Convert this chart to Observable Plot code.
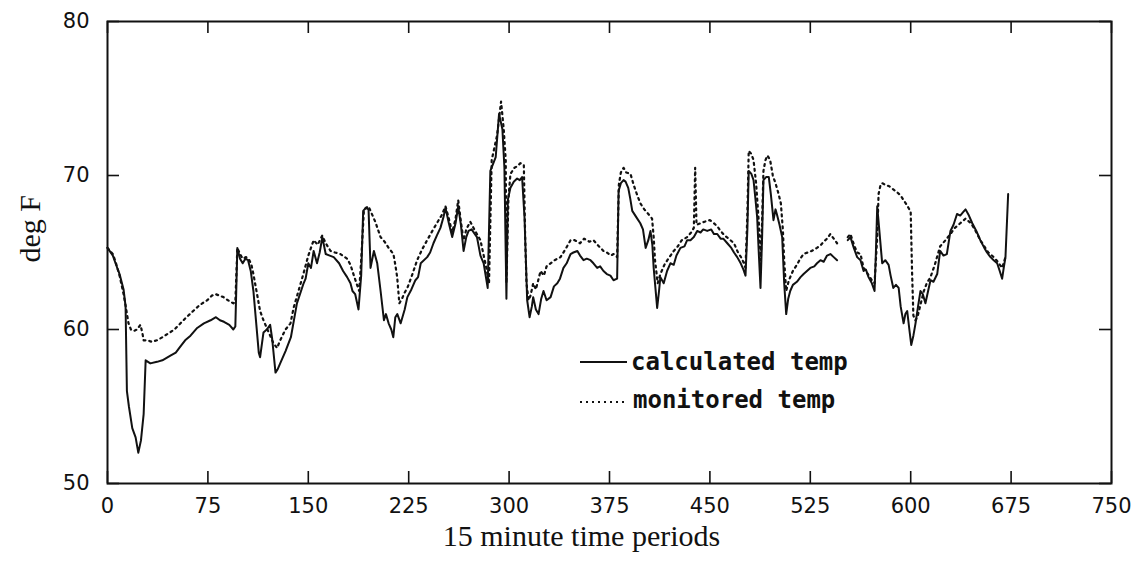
<!DOCTYPE html>
<html><head><meta charset="utf-8">
<script src="https://cdn.jsdelivr.net/npm/d3@7"></script>
<script src="https://cdn.jsdelivr.net/npm/@observablehq/plot@0.6"></script>
<style>
body{margin:0;background:#fff;}
#wrap{position:relative;width:1143px;height:567px;}
</style></head><body><div id="wrap"></div>
<script>
// x tick values and y tick values
const xTicks = [0,75,150,225,300,375,450,525,600,675,750];
const yTicks = [50,60,70,80];
const xLabel = "15 minute time periods";
const yLabel = "deg F";
const legendLabels = ["calculated temp", "monitored temp"];

// calculated temp
const calcT = [0,4,6,9,12,13.5,14.5,16,18.5,21,23,25,27,28.5,32,37,41,47,51,54.5,58,62,67,72,77,81,84,87,91,94,95.5,97,99,101,103,105,107,109,111,113,114,116.5,119,121.5,123,125.5,127,129,133,137,141.5,146.5,148,150,152,154,156.5,158.5,160.5,163,166,169,173,176,179,181.5,183,185,187.5,189.5,191,193,195,196.5,199,201.5,204,206.5,208,210,212,213.5,215,216.5,219,222,224,227,230,232,234,238.8,241,243.5,246,248.7,251,252.5,255,257.5,260,262,264,266,268,269.7,272,276,278.6,281,284,286,290,292.5,295,296.5,298,299,301,303.5,306,308,309.7,311.5,313.5,315.3,317,318,320,322,324,325.7,328,331,333.5,336,338,340.6,343,345.9,348,351,353,355.6,358,360.8,363,365.8,368,370.5,373,375.7,378,380.7,381.8,383.5,385.5,387,389,390.5,392,395,398,400,402,404,405.6,407,408,410.6,412,413,415.5,418,420.5,423,425,428,431,433,435.5,438,440.5,443,445,448,451,453,455.5,458,460,463,466,468,470.4,473,475,476.6,478,479,481,482.6,484,485.3,486.5,487.8,489,490,492,494,495.5,497.5,499,500,502,504,505.5,507,508.5,510,512,515,517.7,520,522.5,525,528,530,532.6,535,537.5,540,542.5,545,549,553,555,557.5,560,562.5,564.8,566.5,568.5,571,573,574,575,576.5,578.7,581,583.5,585,587,589,591,592.5,594.7,596,597.4,599,600.4,602,603.6,605.5,607.3,609,611,613,614.8,617,619.8,622,624.5,627,629.7,632,634.6,637,639,641,643.5,646,649,652,655,657,659.6,662,664.6,666.5,668.3,669.5,670.8,672.8];
const calcV = [65.3,64.8,64.3,63.6,62.6,61.5,56.0,55.0,53.6,53.0,52.0,52.8,54.5,58.0,57.8,57.9,58.0,58.3,58.5,58.9,59.3,59.6,60.1,60.4,60.6,60.8,60.6,60.5,60.3,60.0,60.2,65.3,64.6,64.3,64.6,64.5,63.8,62.5,60.5,58.5,58.2,59.8,60.0,60.3,59.4,57.2,57.4,57.8,58.6,59.5,61.7,63.0,63.3,64.3,64.0,65.1,64.3,65.0,66.0,64.9,64.8,64.7,64.3,63.8,63.4,63.0,62.5,62.3,61.3,63.5,67.7,67.9,67.8,64.0,65.1,64.3,62.5,60.6,61.0,60.4,60.0,59.5,60.8,61.0,60.4,61.3,62.1,62.6,63.2,63.4,64.3,64.7,65.0,65.6,66.1,66.6,67.3,67.9,66.9,66.0,66.9,68.0,66.8,65.1,66.0,66.4,66.5,66.0,64.8,64.3,62.7,70.3,71.2,74.0,73.0,70.5,62.0,68.4,69.2,69.6,69.8,69.7,69.9,67.3,61.9,60.8,61.5,62.1,61.3,61.0,62.0,62.5,61.9,62.1,62.8,63.0,63.3,64.0,64.3,64.9,65.0,65.1,64.8,64.5,64.6,64.5,64.3,64.0,64.1,63.8,63.6,63.5,63.2,63.3,69.0,69.5,69.7,69.6,69.2,68.5,67.7,67.3,66.9,66.5,65.3,65.8,66.4,65.5,64.0,61.4,62.5,63.4,63.0,63.8,64.3,64.2,64.8,65.3,65.4,65.8,65.8,66.0,66.4,66.3,66.5,66.4,66.5,66.2,66.2,65.9,65.9,65.6,65.3,65.0,64.7,64.3,63.9,63.5,66.5,70.3,70.1,69.7,68.5,67.3,65.0,62.7,66.0,69.7,69.9,69.9,68.8,67.1,67.8,67.5,66.8,66.0,63.0,61.0,62.0,62.5,62.9,63.1,63.4,63.6,63.8,64.0,64.1,64.3,64.5,64.4,64.8,64.9,64.7,64.5,NaN,65.8,66.0,65.3,64.7,64.5,63.8,63.9,63.4,63.0,62.5,65.0,68.0,66.5,64.3,64.5,64.2,63.5,62.7,62.9,62.7,61.5,60.4,61.0,61.2,60.0,59.0,59.6,60.4,61.5,62.5,62.3,61.7,62.5,63.2,63.1,63.6,65.1,64.8,64.9,66.4,66.8,67.5,67.4,67.6,67.8,67.4,66.9,66.4,65.8,65.3,65.0,64.7,64.5,64.3,63.8,63.3,64.0,64.7,68.8];

// monitored temp
const monT = [0,4,6,9,12,14,15.7,17.5,19.5,22,24.6,26,27,30,33,37,41,44.6,50,54.5,59,64,69,74.5,78,80.7,83.5,86.7,90,94,95.5,97,99,101,103.5,106,107.5,109,111.5,114,116.5,119,121.5,124,126.7,129,133,136.7,139,142,146.6,150,154,157,160.4,163,166.6,170,174,179,181.5,183.7,186,188,189.5,191.5,193,195,197,200,204,207,210,213.6,215,216.4,218,220,222,224,227,231.3,235,238.8,242,246,249.5,252.5,255,257.5,260,262,264,266,268,271,274,278.6,283,285,287,291,294,296,297.5,298,299.5,301,304,306,308.5,311,312,313,314.5,316,318,320,323.5,326,328,331,334,338.4,342,345.9,349,353,356,360,363,366,370.5,373,376,378,380.7,382,383.5,385.5,387.5,390.7,393,395,398,401,404,406.8,408,409,411,413,416,419,423,426,429,433,436,438,439,440,443,446,450,453,455.5,458,461,464,468,471,474,476.6,478,479,481,482.6,484.5,486.5,488,489,490,491.5,493,495,497,499,501,503,504.5,505.5,507,509,512,515,517.5,520,523,526,530,533,535,537.5,540,542.5,545,549,553,555,558,560,562.5,564.8,568,571,573,575,576,577.5,578.7,581,584,587,590,592.5,594.7,597,599,600,601,602,603.5,605,607,609.8,612,614.8,618,622,626,629.7,633,637,641,645,648.5,652,655,658,662,665,668.3,670.8];
const monV = [65.3,64.9,64.4,63.5,62.3,61.3,60.4,60.0,59.9,60.0,60.3,59.8,59.3,59.3,59.2,59.3,59.5,59.7,60.0,60.4,60.8,61.2,61.6,61.9,62.2,62.3,62.2,62.1,61.9,61.7,61.8,65.3,64.9,64.6,64.7,64.5,64.2,63.6,62.4,61.2,60.6,60.1,59.6,59.1,58.8,59.3,60.0,60.4,61.4,62.3,63.7,64.8,65.8,65.5,66.1,65.6,65.1,65.0,64.9,64.6,64.2,63.6,63.0,62.5,64.5,67.7,67.9,68.0,67.6,67.0,66.0,65.7,65.3,64.9,64.2,63.4,61.7,62.0,62.4,62.7,63.4,64.5,65.2,65.8,66.3,66.9,67.4,68.0,67.2,66.3,67.2,68.4,67.0,65.8,66.5,67.0,66.5,65.8,64.0,63.0,71.0,72.6,74.8,73.0,71.0,63.0,68.5,70.1,70.5,70.6,70.8,70.7,66.0,63.0,61.9,62.2,63.0,62.6,63.8,63.5,64.1,64.3,64.5,64.7,65.2,65.8,65.8,65.6,65.9,65.7,65.8,65.5,65.1,65.0,64.8,64.9,64.7,69.4,70.2,70.5,70.2,70.1,69.4,68.9,68.2,67.8,67.5,67.2,66.0,64.5,63.0,63.6,64.2,64.6,65.1,65.4,65.8,66.0,66.3,66.6,70.5,66.8,66.9,67.0,67.1,66.9,66.7,66.4,66.1,65.9,65.6,65.0,64.6,64.0,67.5,71.6,71.4,71.0,69.5,67.0,64.5,67.0,70.3,71.0,71.3,71.0,70.0,69.5,68.9,68.2,66.5,64.5,62.5,63.2,63.8,64.2,64.6,64.9,65.0,65.1,65.3,65.5,65.7,65.9,66.2,65.9,65.6,NaN,66.0,66.2,65.4,65.0,64.9,64.0,63.6,63.2,63.0,66.0,68.8,69.4,69.5,69.4,69.3,69.1,68.9,68.7,68.4,68.1,67.8,67.6,63.8,60.9,60.6,60.8,61.5,62.5,63.0,63.4,64.2,65.4,65.8,66.2,66.6,66.9,67.2,66.9,66.4,65.8,65.4,65.0,64.7,64.4,64.0,64.7];

const calc = calcT.map((t, i) => ({t, v: calcV[i]}));
const mon = monT.map((t, i) => ({t, v: monV[i]}));

const ink = "#111";
const W = 1143, H = 567, mL = 107, mR = 32, mT = 21, mB = 84;
const frameW = W - mL - mR, frameH = H - mT - mB, tickLen = 12;
const chart = Plot.plot({
  width: W,
  height: H,
  marginLeft: mL,
  marginRight: mR,
  marginTop: mT,
  marginBottom: mB,
  style: {fontFamily: "DejaVu Sans", fontSize: "21px", color: ink, background: "#fff"},
  x: {domain: [0, 750]},
  y: {domain: [50, 80]},
  marks: [
    Plot.frame({stroke: ink, strokeWidth: 2}),
    Plot.axisX({anchor: "bottom", ticks: xTicks, tickSize: 0, tickPadding: 15, label: null}),
    Plot.axisY({anchor: "left", ticks: yTicks, tickSize: 0, tickPadding: 18, label: null}),
    // inward ticks on all four sides
    Plot.tickX(xTicks, {x: d => d, insetTop: frameH - tickLen, stroke: ink, strokeWidth: 1.6}),
    Plot.tickX(xTicks, {x: d => d, insetBottom: frameH - tickLen, stroke: ink, strokeWidth: 1.6}),
    Plot.tickY(yTicks, {y: d => d, insetRight: frameW - tickLen, stroke: ink, strokeWidth: 1.6}),
    Plot.tickY(yTicks, {y: d => d, insetLeft: frameW - tickLen, stroke: ink, strokeWidth: 1.6}),
    Plot.line(mon, {x: "t", y: "v", stroke: ink, strokeWidth: 2.2, strokeDasharray: "2,4"}),
    Plot.line(calc, {x: "t", y: "v", stroke: ink, strokeWidth: 2}),
    Plot.text([xLabel], {frameAnchor: "bottom", dx: -28, dy: 62, fontFamily: "Liberation Serif", fontSize: 30, fill: ink}),
    Plot.text([yLabel], {frameAnchor: "left", rotate: -90, dx: -77, dy: 10, fontFamily: "Liberation Serif", fontSize: 30, fill: ink})
  ]
});
document.getElementById("wrap").appendChild(chart);

// legend drawn into the same SVG
const svg = d3.select(chart);
const lg = svg.append("g").attr("font-family", "DejaVu Sans Mono").attr("font-size", 24).attr("font-weight", "bold").attr("fill", ink).attr("text-anchor", "start");
const legendRows = [
  {label: legendLabels[0], dash: null, x1: 580, x2: 627, ly: 362, tx: 631, ty: 370},
  {label: legendLabels[1], dash: "2,4", x1: 580, x2: 624, ly: 402, tx: 633, ty: 408}
];
legendRows.forEach(r => {
  lg.append("line").attr("x1", r.x1).attr("x2", r.x2).attr("y1", r.ly).attr("y2", r.ly)
    .attr("stroke", ink).attr("stroke-width", 2).attr("stroke-dasharray", r.dash);
  lg.append("text").attr("x", r.tx).attr("y", r.ty).attr("text-anchor", "start").text(r.label);
});
</script>
</body></html>
